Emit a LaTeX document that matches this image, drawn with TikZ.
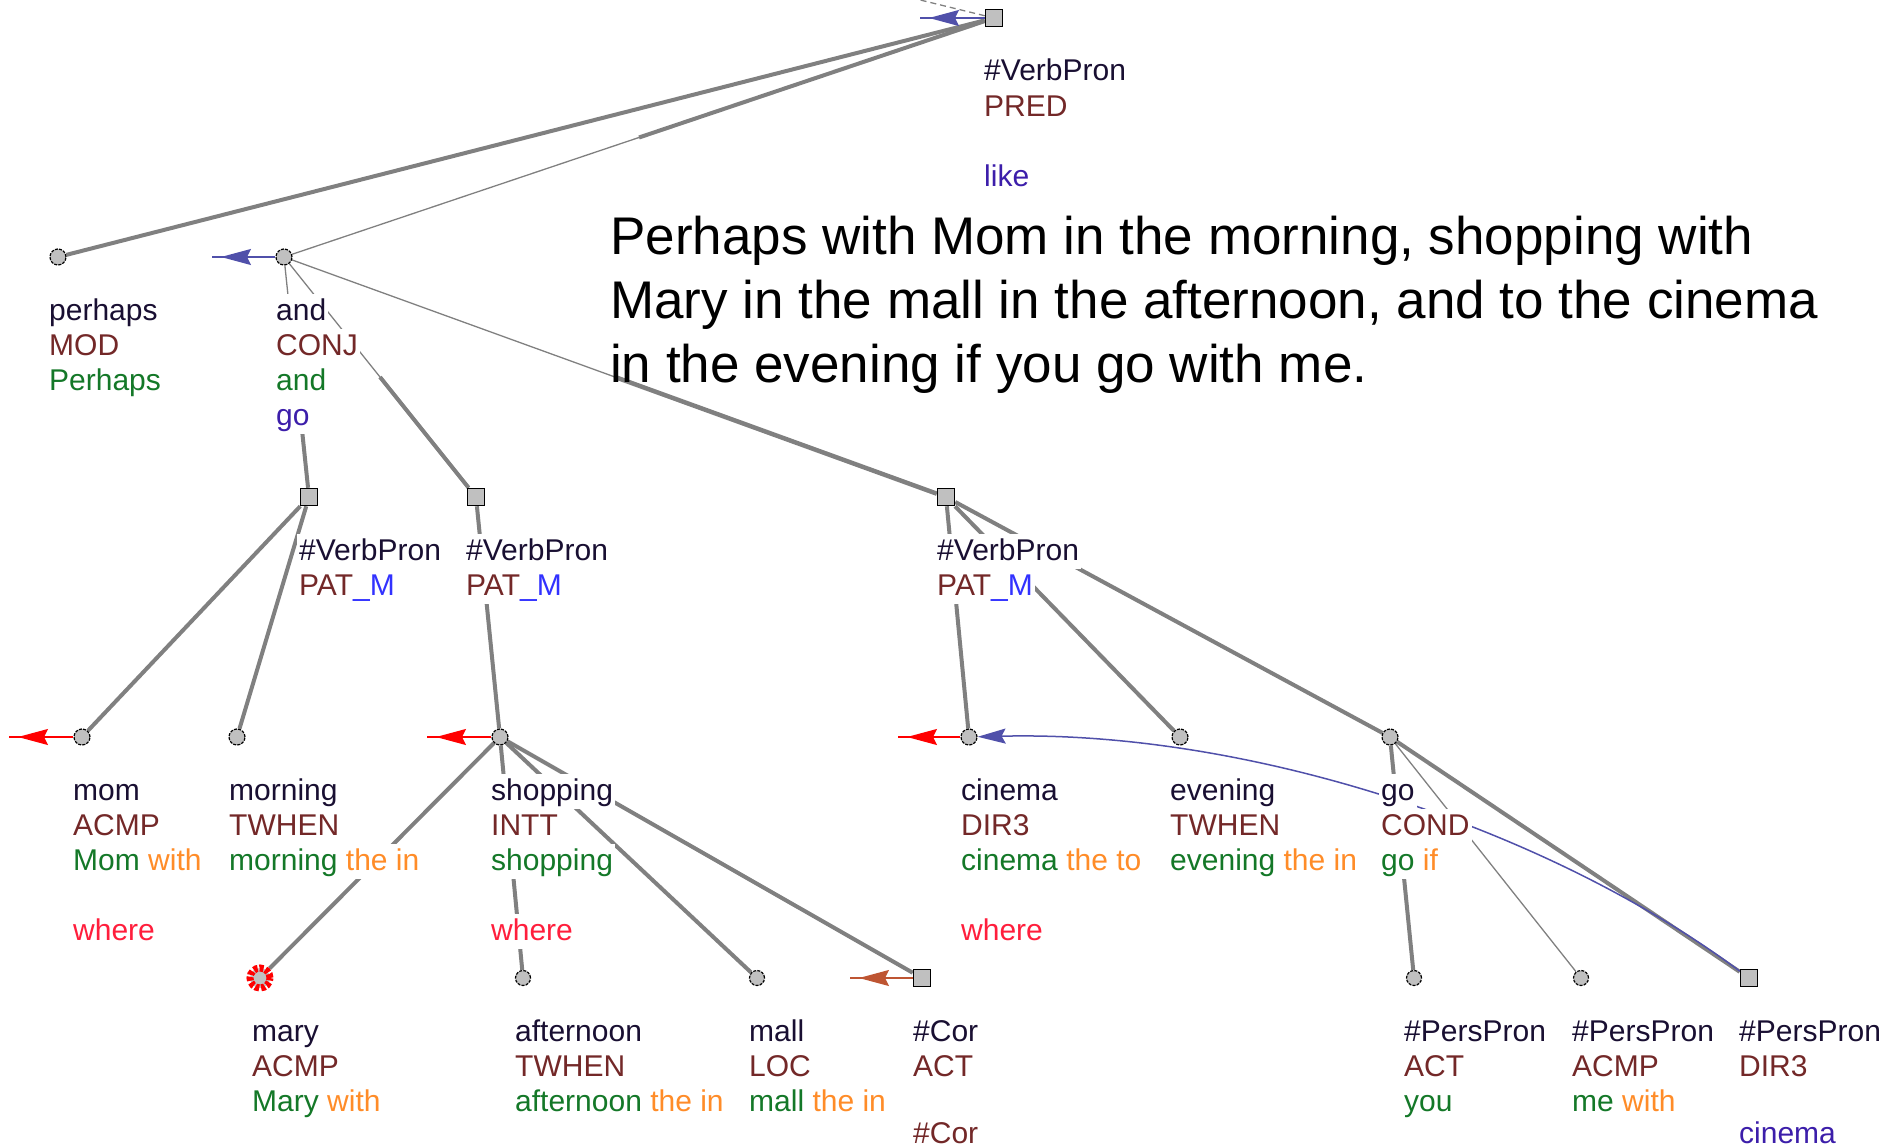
\documentclass[tikz,border=0pt]{standalone}
\usepackage{fontspec}
\setmainfont{Liberation Sans}
\usetikzlibrary{arrows.meta,calc,backgrounds}

\definecolor{edgegray}{RGB}{128,128,128}
\definecolor{nodegray}{RGB}{192,192,192}
\definecolor{lemmacol}{RGB}{25,15,50}
\definecolor{funccol}{RGB}{115,40,40}
\definecolor{formgreen}{RGB}{20,120,40}
\definecolor{auxorange}{RGB}{255,140,40}
\definecolor{wherered}{RGB}{255,30,60}
\definecolor{verbblue}{RGB}{60,30,170}
\definecolor{mblue}{RGB}{50,50,255}
\definecolor{arrblue}{RGB}{80,80,170}
\definecolor{arrbrown}{RGB}{190,85,50}

\tikzset{
  hub/.style={rectangle, draw=black, line width=1.5pt, fill=nodegray, minimum size=17pt, inner sep=0pt},
  leaf/.style={circle, draw=black, line width=1.2pt, dash pattern=on 3pt off 1.2pt, fill=nodegray, minimum size=16pt, inner sep=0pt},
  marked/.style={leaf, draw=red, line width=7pt, dash pattern=on 4pt off 2pt, minimum size=20pt},
  branch/.style={draw=edgegray, line width=4pt},
  thinbranch/.style={draw=edgegray, line width=1.3pt},
  tailarrow/.style={line width=1.5pt, postaction={draw, -{Stealth[length=30pt,width=16pt,inset=4pt]}, shorten >=9pt}},
  labelrow/.style={anchor=west, fill=white, inner xsep=2pt, inner ysep=0pt, minimum height=35pt, text height=22pt, text depth=4pt, font=\fontsize{30}{35}\selectfont},
  lemmarow/.style={labelrow, text=lemmacol},
  funcrow/.style={labelrow, text=funccol},
  formrow/.style={labelrow, text=formgreen},
  whererow/.style={labelrow, text=wherered},
  verbrow/.style={labelrow, text=verbblue},
  lastrow/.style={minimum height=26pt},
  sentence/.style={anchor=base west, inner sep=0pt, font=\fontsize{53}{64}\selectfont, text=black}
}

\begin{document}
\begin{tikzpicture}[x=1pt, y=-1pt]
  \useasboundingbox (0,0) rectangle (1890,1148);

  % tree nodes
  \node[hub] (root) at (994,18) {};
  \node[leaf] (perhaps) at (58,257) {};
  \node[leaf] (and) at (284,257) {};
  \node[hub] (vp1) at (309,497) {};
  \node[hub] (vp2) at (476,497) {};
  \node[hub] (vp3) at (946,497) {};
  \node[leaf] (mom) at (82,737) {};
  \node[leaf] (morning) at (237,737) {};
  \node[leaf] (shopping) at (500,737) {};
  \node[leaf] (cinema) at (969,737) {};
  \node[leaf] (evening) at (1180,737) {};
  \node[leaf] (go) at (1390,737) {};
  \node[marked] (mary) at (260,978) {};
  \node[leaf, minimum size=15pt] (afternoon) at (523,978) {};
  \node[leaf, minimum size=15pt] (mall) at (757,978) {};
  \node[hub] (cor) at (922,978) {};
  \node[leaf, minimum size=15pt] (pp1) at (1414,978) {};
  \node[leaf, minimum size=15pt] (pp2) at (1581,978) {};
  \node[hub] (pp3) at (1749,978) {};

  % free ends
  \coordinate (top-end) at (912,-2);
  \coordinate (root-end) at (920,18);
  \coordinate (and-end) at (212,257);
  \coordinate (mom-end) at (9,737);
  \coordinate (shopping-end) at (427,737);
  \coordinate (cinema-end) at (898,737);
  \coordinate (cor-end) at (850,978);

  % labels
  \node[lemmarow] (root-a) at (982,72) {\#VerbPron};
  \node[funcrow] (root-b) at (982,107) {PRED};
  \node[verbrow] (root-d) at (982,177) {like};

  \node[lemmarow] (perhaps-a) at (47,311) {perhaps};
  \node[funcrow] (perhaps-b) at (47,346) {MOD};
  \node[formrow] (perhaps-c) at (47,381) {Perhaps};

  \node[lemmarow] (and-a) at (274,311) {and};
  \node[funcrow] (and-b) at (274,346) {CONJ};
  \node[formrow] (and-c) at (274,381) {and};
  \node[verbrow] (and-d) at (274,416) {go};

  \node[lemmarow] (vp1-a) at (297,551) {\#VerbPron};
  \node[funcrow] (vp1-b) at (297,586) {PAT\textcolor{mblue}{\_M}};
  \node[lemmarow] (vp2-a) at (464,551) {\#VerbPron};
  \node[funcrow] (vp2-b) at (464,586) {PAT\textcolor{mblue}{\_M}};
  \node[lemmarow] (vp3-a) at (935,551) {\#VerbPron};
  \node[funcrow] (vp3-b) at (935,586) {PAT\textcolor{mblue}{\_M}};

  \node[lemmarow] (mom-a) at (71,791) {mom};
  \node[funcrow] (mom-b) at (71,826) {ACMP};
  \node[formrow] (mom-c) at (71,861) {Mom \textcolor{auxorange}{with}};
  \node[whererow] (mom-e) at (71,931) {where};

  \node[lemmarow] (morning-a) at (227,791) {morning};
  \node[funcrow] (morning-b) at (227,826) {TWHEN};
  \node[formrow] (morning-c) at (227,861) {morning \textcolor{auxorange}{the in}};

  \node[lemmarow] (shopping-a) at (489,791) {shopping};
  \node[funcrow] (shopping-b) at (489,826) {INTT};
  \node[formrow] (shopping-c) at (489,861) {shopping};
  \node[whererow] (shopping-e) at (489,931) {where};

  \node[lemmarow] (cinema-a) at (959,791) {cinema};
  \node[funcrow] (cinema-b) at (959,826) {DIR3};
  \node[formrow] (cinema-c) at (959,861) {cinema \textcolor{auxorange}{the to}};
  \node[whererow] (cinema-e) at (959,931) {where};

  \node[lemmarow] (evening-a) at (1168,791) {evening};
  \node[funcrow] (evening-b) at (1168,826) {TWHEN};
  \node[formrow] (evening-c) at (1168,861) {evening \textcolor{auxorange}{the in}};

  \node[lemmarow] (go-a) at (1379,791) {go};
  \node[funcrow] (go-b) at (1379,826) {COND};
  \node[formrow] (go-c) at (1379,861) {go \textcolor{auxorange}{if}};

  \node[lemmarow] (mary-a) at (250,1032) {mary};
  \node[funcrow] (mary-b) at (250,1067) {ACMP};
  \node[formrow] (mary-c) at (250,1102) {Mary \textcolor{auxorange}{with}};

  \node[lemmarow] (afternoon-a) at (513,1032) {afternoon};
  \node[funcrow] (afternoon-b) at (513,1067) {TWHEN};
  \node[formrow] (afternoon-c) at (513,1102) {afternoon \textcolor{auxorange}{the in}};

  \node[lemmarow] (mall-a) at (747,1032) {mall};
  \node[funcrow] (mall-b) at (747,1067) {LOC};
  \node[formrow] (mall-c) at (747,1102) {mall \textcolor{auxorange}{the in}};

  \node[lemmarow] (cor-a) at (911,1032) {\#Cor};
  \node[funcrow] (cor-b) at (911,1067) {ACT};
  \node[funcrow, lastrow] (cor-d) at (911,1134) {\#Cor};

  \node[lemmarow] (pp1-a) at (1402,1032) {\#PersPron};
  \node[funcrow] (pp1-b) at (1402,1067) {ACT};
  \node[formrow] (pp1-c) at (1402,1102) {you};

  \node[lemmarow] (pp2-a) at (1570,1032) {\#PersPron};
  \node[funcrow] (pp2-b) at (1570,1067) {ACMP};
  \node[formrow] (pp2-c) at (1570,1102) {me \textcolor{auxorange}{with}};

  \node[lemmarow] (pp3-a) at (1737,1032) {\#PersPron};
  \node[funcrow] (pp3-b) at (1737,1067) {DIR3};
  \node[verbrow, lastrow] (pp3-d) at (1737,1134) {cinema};

  % the sentence
  \node[sentence] (sent-1) at (610,254) {Perhaps with Mom in the morning, shopping with};
  \node[sentence] (sent-2) at (610,318) {Mary in the mall in the afternoon, and to the cinema};
  \node[sentence] (sent-3) at (610,382) {in the evening if you go with me.};

  % edges under everything
  \begin{scope}[on background layer]
    \draw[thinbranch, dash pattern=on 6pt off 4pt] (root) -- (top-end);
    \draw[branch] (root) -- (perhaps);
    \draw[thinbranch] (and) -- (root);
    \draw[branch] ($(and)!0.5!(root)$) -- (root);
    \draw[thinbranch] (and) -- (vp1);
    \draw[branch] ($(and)!0.5!(vp1)$) -- (vp1);
    \draw[thinbranch] (and) -- (vp2);
    \draw[branch] ($(and)!0.5!(vp2)$) -- (vp2);
    \draw[thinbranch] (and) -- (vp3);
    \draw[branch, line width=4.5pt] ($(and)!0.5!(vp3)$) -- (vp3);
    \draw[branch] (vp1) -- (mom);
    \draw[branch] (vp1) -- (morning);
    \draw[branch] (vp2) -- (shopping);
    \draw[branch] (shopping) -- (mary);
    \draw[branch] (shopping) -- (afternoon);
    \draw[branch] (shopping) -- (mall);
    \draw[branch] (shopping) -- (cor);
    \draw[branch] (vp3) -- (cinema);
    \draw[branch] (vp3) -- (evening);
    \draw[branch] (vp3) -- (go);
    \draw[branch] (go) -- (pp1);
    \draw[thinbranch] (go) -- (pp2);
    \draw[branch] (go) -- (pp3);
    \draw[arrblue, line width=1.5pt, -{Stealth[length=28pt,width=15pt,inset=4pt]}]
      (pp3) .. controls (1550,830) and (1250,730) .. (cinema);
  \end{scope}

  % coreference arrows
  \draw[tailarrow, arrblue] (root) -- (root-end);
  \draw[tailarrow, arrblue] (and) -- (and-end);
  \draw[tailarrow, red] (mom) -- (mom-end);
  \draw[tailarrow, red] (shopping) -- (shopping-end);
  \draw[tailarrow, red] (cinema) -- (cinema-end);
  \draw[tailarrow, arrbrown] (cor) -- (cor-end);
\end{tikzpicture}
\end{document}
